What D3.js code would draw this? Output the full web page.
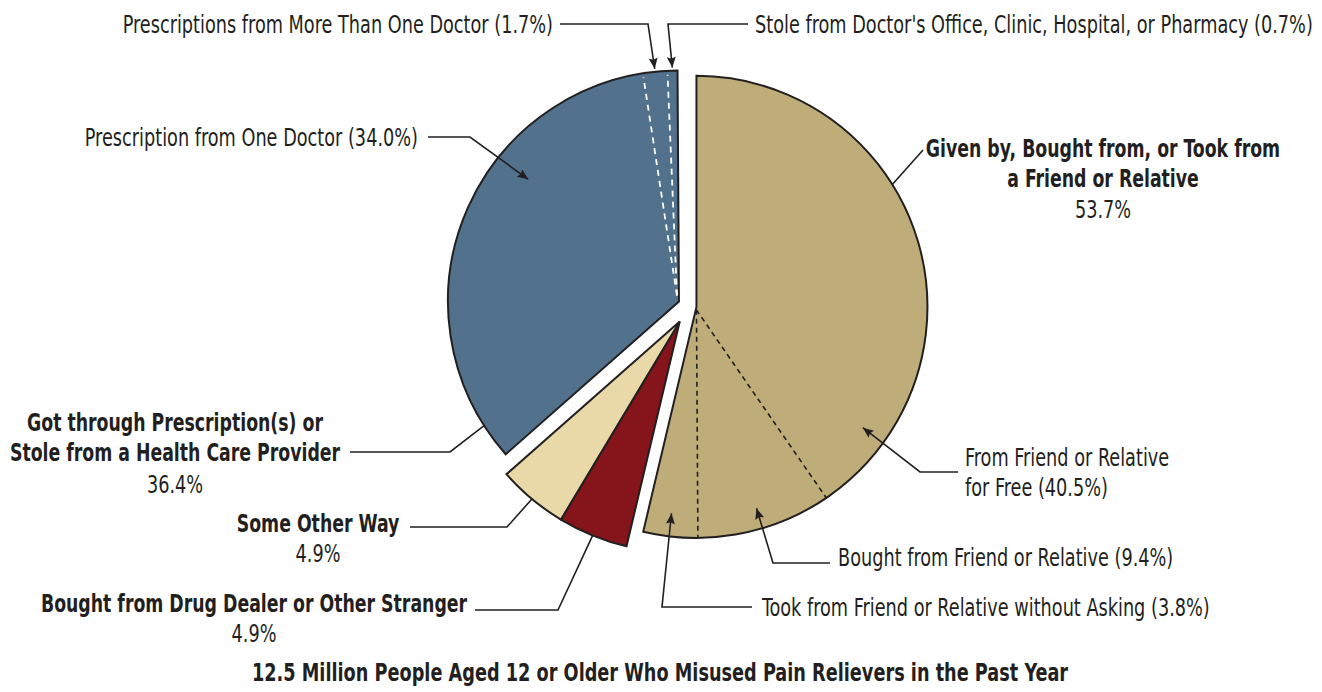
<!DOCTYPE html>
<html><head><meta charset="utf-8">
<script src="https://cdn.jsdelivr.net/npm/d3@7"></script>
<style>
body{margin:0;background:#fff}
text{font-family:"Liberation Sans Narrow","DejaVu Sans Condensed","Arial Narrow",sans-serif;fill:#231f20;font-size:24px}
.b{font-weight:bold;font-size:25px}
.t{font-weight:bold;font-size:24px}
</style>
</head><body><script>
// main slices, clockwise from 12 o'clock
const groups = ["Given by, Bought from, or Took from a Friend or Relative","Bought from Drug Dealer or Other Stranger","Some Other Way","Got through Prescription(s) or Stole from a Health Care Provider"];
const groupValues = [53.7, 4.9, 4.9, 36.4];
const groupColors = ["#bead79", "#85151b", "#e9d9a9", "#52718c"];
// sub slices
const friendParts = ["From Friend or Relative for Free", "Bought from Friend or Relative", "Took from Friend or Relative without Asking"];
const friendValues = [40.5, 9.4, 3.8];
const providerParts = ["Prescription from One Doctor", "Prescriptions from More Than One Doctor", "Stole from Doctor's Office, Clinic, Hospital, or Pharmacy"];
const providerValues = [34.0, 1.7, 0.7];
const title = "12.5 Million People Aged 12 or Older Who Misused Pain Relievers in the Past Year";

let w = 1322, h = 692;
let cx = 689, cy = 306, R = 231;
let cluster = [0, 1, 1, 2];          // red+cream are pulled out together
let explode = [7.5, 18, 11];
let squeeze = {"": 0.82, "b": 0.77, "t": 0.82};   // condensed look

let svg = d3.select("body").append("svg").attr("width", w).attr("height", h);
svg.append("defs").append("marker").attr("id", "arr")
   .attr("viewBox", "0 0 12 10").attr("refX", 12).attr("refY", 5)
   .attr("markerWidth", 12).attr("markerHeight", 9).attr("markerUnits", "userSpaceOnUse")
   .attr("orient", "auto")
   .append("path").attr("d", "M0,0L12,5L0,10L2,5Z").attr("fill", "#231f20");

let pie = d3.pie().sort(null).value(d => d)
            .endAngle(2 * Math.PI * d3.sum(groupValues) / 100);
let arcs = pie(groupValues);

// cluster angles + offsets
let clusterAng = [0, 1, 2].map(c => {
    let a = arcs.filter((d, i) => cluster[i] == c);
    return (a[0].startAngle + a[a.length - 1].endAngle) / 2;
});
let centers = arcs.map((d, i) => {
    let c = cluster[i], a = clusterAng[c];
    return [cx + explode[c] * Math.sin(a), cy - explode[c] * Math.cos(a)];
});
let polar = (i, a, r) => [centers[i][0] + r * Math.sin(a), centers[i][1] - r * Math.cos(a)];

let arc = d3.arc().innerRadius(0).outerRadius(R);
svg.selectAll("path.slice").data(arcs).enter().append("path")
   .attr("class", "slice")
   .attr("transform", (d, i) => "translate(" + centers[i] + ")")
   .attr("d", arc)
   .attr("fill", (d, i) => groupColors[i])
   .attr("stroke", "#231f20").attr("stroke-width", 2).attr("stroke-linejoin", "miter");

// sub slices inside a group
function subArcs(gi, vals) {
    let g = arcs[gi];
    return d3.pie().sort(null).value(d => d).startAngle(g.startAngle).endAngle(g.endAngle)(vals);
}
let friendArcs = subArcs(0, friendValues);
let providerArcs = subArcs(3, providerValues);

svg.selectAll("line.fd").data(friendArcs.slice(1)).enter().append("line")
   .attr("x1", centers[0][0]).attr("y1", centers[0][1] + 3)
   .attr("x2", d => polar(0, d.startAngle, R)[0]).attr("y2", d => polar(0, d.startAngle, R)[1])
   .attr("stroke", "#231f20").attr("stroke-width", 1.6).attr("stroke-dasharray", "5,4");
svg.selectAll("line.pd").data(providerArcs.slice(1)).enter().append("line")
   .attr("x1", centers[3][0] - 2).attr("y1", centers[3][1] - 6)
   .attr("x2", d => polar(3, d.startAngle, R - 4)[0]).attr("y2", d => polar(3, d.startAngle, R - 4)[1])
   .attr("stroke", "#fff").attr("stroke-width", 1.8).attr("stroke-dasharray", "6,5");

// annotations: slice, fraction across slice, radius, leader points, arrow
let notes = [
  {a: providerArcs[1], g: 3, t: 0.5, r: R + 3, pts: [[560, 24], [648, 24]], arrow: true,
   lines: [[providerParts[1] + " (" + providerValues[1].toFixed(1) + "%)", 553, 33, "end", ""]]},
  {a: providerArcs[2], g: 3, t: 0.5, r: R + 3, pts: [[748, 24], [668, 24]], arrow: true,
   lines: [[providerParts[2] + " (" + providerValues[2].toFixed(1) + "%)", 755, 33, "start", ""]]},
  {a: providerArcs[0], g: 3, t: 0.657, r: R * 0.84, pts: [[428, 137], [470, 137]], arrow: true,
   lines: [[providerParts[0] + " (" + providerValues[0].toFixed(1) + "%)", 418, 146, "end", ""]]},
  {a: arcs[0], g: 0, t: 0.30, r: R, pts: [[923, 150]], arrow: false,
   lines: [["Given by, Bought from, or Took from", 1103, 157, "middle", "b"], ["a Friend or Relative", 1103, 187, "middle", "b"],
           [groupValues[0] + "%", 1103, 218, "middle", ""]]},
  {a: friendArcs[0], g: 0, t: 0.864, r: R * 0.89, pts: [[958, 472], [920, 472]], arrow: true,
   lines: [["From Friend or Relative", 965, 466, "start", ""], ["for Free (" + friendValues[0] + "%)", 965, 496, "start", ""]]},
  {a: friendArcs[1], g: 0, t: 0.52, r: R * 0.91, pts: [[830, 563], [773, 563]], arrow: true,
   lines: [[friendParts[1] + " (" + friendValues[1] + "%)", 838, 566, "start", ""]]},
  {a: friendArcs[2], g: 0, t: 0.53, r: R * 0.9, pts: [[752, 607], [662, 607]], arrow: true,
   lines: [[friendParts[2] + " (" + friendValues[2] + "%)", 762, 616, "start", ""]]},
  {a: arcs[3], g: 3, t: 0.068, r: R, pts: [[350, 452], [450, 452]], arrow: false,
   lines: [["Got through Prescription(s) or", 175, 431, "middle", "b"], ["Stole from a Health Care Provider", 175, 461, "middle", "b"],
           [groupValues[3] + "%", 175, 493, "middle", ""]]},
  {a: arcs[2], g: 2, t: 0.5, r: R, pts: [[410, 527], [507, 527]], arrow: false,
   lines: [[groups[2], 318, 532, "middle", "b"], [groupValues[2] + "%", 318, 562, "middle", ""]]},
  {a: arcs[1], g: 1, t: 0.5, r: R, pts: [[475, 610], [558, 610]], arrow: false,
   lines: [[groups[1], 254, 612, "middle", "b"], [groupValues[1] + "%", 254, 642, "middle", ""]]}
];

// text squeezed horizontally around its anchor point
function label(txt, x, y, anchor, cls) {
    svg.append("text").attr("transform", "translate(" + x + "," + y + ") scale(" + squeeze[cls] + ",1)")
       .attr("text-anchor", anchor).attr("class", cls).text(txt);
}

let line = d3.line();
notes.forEach(n => {
    let ang = n.a.startAngle + n.t * (n.a.endAngle - n.a.startAngle);
    let p = n.pts.concat([polar(n.g, ang, n.r)]);
    svg.append("path").attr("d", line(p)).attr("fill", "none")
       .attr("stroke", "#231f20").attr("stroke-width", 1.6)
       .attr("marker-end", n.arrow ? "url(#arr)" : null);
    n.lines.forEach(l => label(l[0], l[1], l[2], l[3], l[4]));
});

label(title, 660, 681, "middle", "t");
</script></body></html>
